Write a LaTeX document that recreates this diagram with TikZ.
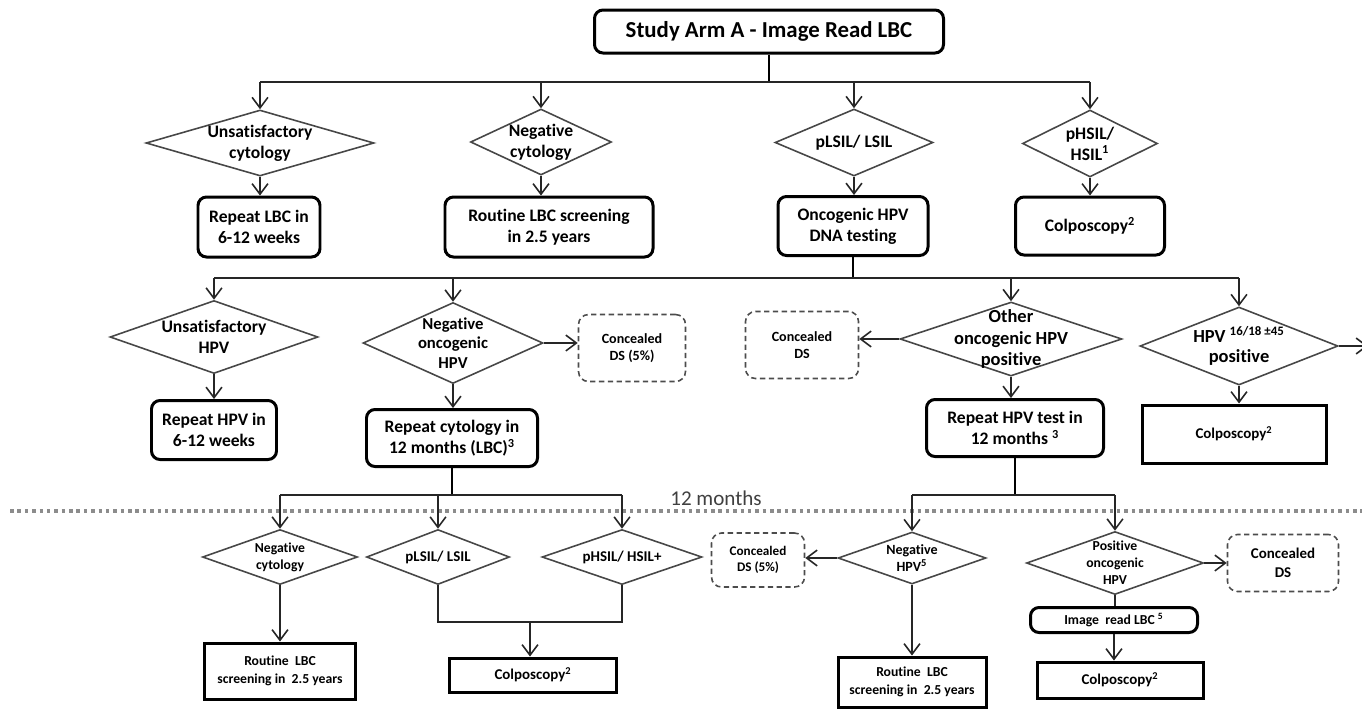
\documentclass[tikz,border=0pt]{standalone}
\usepackage{fontspec}
\setmainfont{Carlito}[Ligatures=NoCommon]
\usetikzlibrary{shapes.geometric,arrows.meta}
\begin{document}
\begin{tikzpicture}[x=0.02cm,y=-0.02cm,
  every node/.style={font=\bfseries, text=black, align=center},
  fs/.style 2 args={font=\bfseries\fontsize{#1}{#2}\selectfont},
  sz/.style 2 args={minimum width=#1*0.02cm, minimum height=#2*0.02cm},
  rbox/.style={draw=black, line width=1.7pt, rounded corners=0.17cm, inner sep=0pt},
  sbox/.style={draw=black, line width=1.7pt, inner sep=0pt},
  dbox/.style={draw=black!70, line width=0.9pt, dash pattern=on 3pt off 2pt, rounded corners=0.2cm, inner sep=0pt},
  dia/.style={diamond, draw=black!72, line width=0.9pt, inner sep=0pt},
  conn/.style={draw=black!85, line width=0.9pt},
  stem/.style={draw=black, line width=1.3pt},
  arr/.style={conn, -{Straight Barb[length=6pt,width=9pt]}},
  dotline/.style={draw=black!45, line width=2pt, dash pattern=on 2pt off 2.2pt},
]
\useasboundingbox (0,0) rectangle (1362,708);

% dotted 12-month line
\coordinate (dotL) at (10,511);
\coordinate (dotR) at (1362,511);
\draw[dotline] (dotL) -- (dotR);
\node[font=\mdseries\fontsize{12}{14}\selectfont, text=black!75] (mo) at (716,498) {12 months};

% ---------- top level ----------
\node[rbox, sz={349}{43}, fs={13}{15}] (title) at (769,31.5) {Study Arm A - Image Read LBC};

\node[dia, sz={228}{66}, label={[fs={10}{12}]center:{Unsatisfactory\\cytology}}] (d1) at (260,143) {};
\node[dia, sz={141}{66}, label={[fs={10}{12}]center:{Negative\\cytology}}] (d2) at (541,142) {};
\node[dia, sz={158}{67}, label={[fs={10}{12}]center:{pLSIL/ LSIL}}] (d3) at (854,142.5) {};
\node[dia, sz={135}{67}, label={[fs={10}{12}]center:{pHSIL/\\HSIL\textsuperscript{1}}}] (d4) at (1090,143.5) {};

\node[rbox, sz={122}{60}, fs={10}{12}] (b1) at (259,227) {Repeat LBC in\\6-12 weeks};
\node[rbox, sz={208}{60}, fs={10}{12}] (b2) at (549,227) {Routine LBC screening\\in 2.5 years};
\node[rbox, sz={150}{59}, fs={10}{12}] (b3) at (853,226) {Oncogenic HPV\\DNA testing};
\node[rbox, sz={149}{58}, fs={10}{12}] (b4) at (1090,226) {Colposcopy\textsuperscript{2}};

\coordinate (bus1) at (769,82);
\draw[stem] (title.south) -- (title.south |- bus1);
\draw[conn] (d1.north |- bus1) -- (d4.north |- bus1);
\foreach \d in {d1,d2,d3,d4} \draw[arr] (\d.north |- bus1) -- (\d.north);
\draw[arr] (d1.south) -- (d1.south |- b1.north);
\draw[arr] (d2.south) -- (d2.south |- b2.north);
\draw[arr] (d3.south) -- (d3.south |- b3.north);
\draw[arr] (d4.south) -- (d4.south |- b4.north);

% ---------- second level ----------
\node[dia, sz={208}{73}, label={[fs={10}{12}]center:{Unsatisfactory\\HPV}}] (e1) at (214,337) {};
\node[dia, sz={180}{81}, label={[fs={9.5}{11.3}]center:{Negative\\oncogenic\\HPV}}] (e2) at (453,343) {};
\node[dia, sz={222}{74}, label={[fs={10.5}{12.3}]center:{Other\\oncogenic HPV\\positive}}] (e3) at (1011,339) {};
\node[dia, sz={198}{78}, label={[fs={10.5}{11.5}]center:{HPV \textsuperscript{16/18 ±45}\\positive}}] (e4) at (1239,346) {};

\node[dbox, sz={107}{67}, fs={8}{10}] (c1) at (632,348) {Concealed\\DS (5\%)};
\node[dbox, sz={113}{67}, fs={8}{10}] (c2) at (802,345) {Concealed\\DS};

\node[rbox, sz={125}{59}, fs={10}{12}] (f1) at (214,430) {Repeat HPV in\\6-12 weeks};
\node[rbox, sz={171}{57}, fs={10}{12}] (f2) at (452,438) {Repeat cytology in\\12 months (LBC)\textsuperscript{3}};
\node[rbox, sz={177}{57}, fs={10}{12}] (f3) at (1015,428) {Repeat HPV test in\\12 months \textsuperscript{3}};
\node[sbox, sz={184}{58}, fs={8.5}{10}] (f4) at (1234,434) {Colposcopy\textsuperscript{2}};

\coordinate (bus2) at (853,278);
\coordinate (rout) at (1368,346);
\draw[stem] (b3.south) -- (b3.south |- bus2);
\draw[conn] (e1.north |- bus2) -- (e4.north |- bus2);
\foreach \d in {e1,e2,e3,e4} \draw[arr] (\d.north |- bus2) -- (\d.north);
\draw[arr] (e1.south) -- (e1.south |- f1.north);
\draw[arr] (e2.south) -- (e2.south |- f2.north);
\draw[arr] (e3.south) -- (e3.south |- f3.north);
\draw[arr] (e4.south) -- (e4.south |- f4.north);
\draw[arr] (e2.east) -- (e2.east -| c1.west);
\draw[arr] (e3.west) -- (e3.west -| c2.east);
\draw[arr] (e4.east) -- (e4.east -| rout);

% ---------- bottom left ----------
\node[dia, sz={155}{55}, label={[fs={7.8}{9.5}]center:{Negative\\cytology}}] (g1) at (280,557) {};
\node[dia, sz={143}{55}, label={[fs={8.5}{10}]center:{pLSIL/ LSIL}}] (g2) at (438,557) {};
\node[dia, sz={160}{55}, label={[fs={8.5}{10}]center:{pHSIL/ HSIL+}}] (g3) at (622,557) {};
\node[dbox, sz={93}{54}, fs={7.5}{9.5}] (c3) at (758,560) {Concealed\\DS (5\%)};

\node[sbox, sz={151}{56}, fs={7.8}{10}] (h1) at (280,671) {Routine~~LBC\\screening in~~2.5 years};
\node[sbox, sz={167}{34}, fs={8.5}{10}] (h2) at (533,675) {Colposcopy\textsuperscript{2}};

\coordinate (bus3) at (453,495);
\coordinate (jn) at (530,622);
\draw[stem] (f2.south) -- (f2.south |- bus3);
\draw[conn] (g1.north |- bus3) -- (g3.north |- bus3);
\foreach \d in {g1,g2,g3} \draw[arr] (\d.north |- bus3) -- (\d.north);
\draw[arr] (g1.south) -- (g1.south |- h1.north);
\draw[conn] (g2.south) -- (g2.south |- jn) -- (g3.south |- jn) -- (g3.south);
\draw[arr] (jn) -- (jn |- h2.north);

% ---------- bottom right ----------
\node[dia, sz={148}{52}, label={[fs={8}{10}]center:{Negative\\HPV\textsuperscript{5}}}] (k1) at (912,558) {};
\node[dia, sz={177}{63}, label={[fs={7.8}{9.6}]center:{Positive\\oncogenic\\HPV}}] (k2) at (1115,563) {};
\node[dbox, sz={111}{57}, fs={8.5}{10.5}] (c4) at (1283,563) {Concealed\\DS};

\node[rbox, sz={167}{25}, fs={7.8}{9}] (m1) at (1114,620) {Image~~read LBC \textsuperscript{5}};
\node[sbox, sz={166}{36}, fs={8.5}{10}] (m2) at (1120,680) {Colposcopy\textsuperscript{2}};
\node[sbox, sz={148}{50}, fs={7.8}{10}] (h3) at (912,682) {Routine~~LBC\\screening in~~2.5 years};

\coordinate (bus4) at (1012,495);
\draw[stem] (f3.south) -- (f3.south |- bus4);
\draw[conn] (k1.north |- bus4) -- (k2.north |- bus4);
\foreach \d in {k1,k2} \draw[arr] (\d.north |- bus4) -- (\d.north);
\draw[arr] (k1.west) -- (k1.west -| c3.east);
\draw[arr] (k2.east) -- (k2.east -| c4.west);
\draw[arr] (k1.south) -- (k1.south |- h3.north);
\draw[conn] (k2.south) -- (k2.south |- m1.north);
\draw[arr] (m1.south) -- (m1.south |- m2.north);
\end{tikzpicture}
\end{document}
